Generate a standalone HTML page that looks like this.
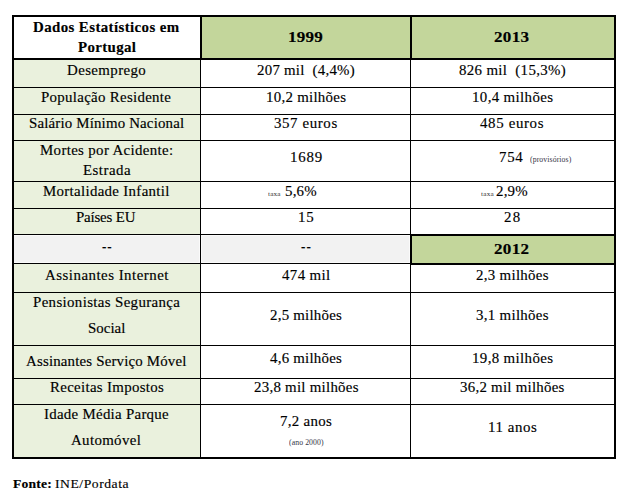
<!DOCTYPE html>
<html><head><meta charset="utf-8"><title>Dados Estatísticos em Portugal</title>
<style>
html,body{margin:0;padding:0;background:#fff;}
body{width:627px;height:497px;position:relative;overflow:hidden;font-family:"Liberation Serif",serif;color:#000;}
.f{position:absolute;}
.k{position:absolute;background:#000;}
.t{position:absolute;white-space:pre;line-height:20px;height:20px;transform-origin:0 0;-webkit-text-stroke:0.15px #000;}
.b{font-weight:bold;}
</style></head>
<body>
<div class="f" style="left:14px;top:60px;width:186px;height:175px;background:#eaf1dd"></div>
<div class="f" style="left:14px;top:264px;width:186px;height:193px;background:#eaf1dd"></div>
<div class="f" style="left:202px;top:17px;width:412px;height:41px;background:#c3d69b"></div>
<div class="f" style="left:14px;top:235px;width:186px;height:28px;background:#fafafa"></div>
<div class="f" style="left:201px;top:235px;width:209px;height:28px;background:#fafafa"></div>
<div class="f" style="left:14px;top:236px;width:185px;height:26px;background:#f2f2f2"></div>
<div class="f" style="left:202px;top:236px;width:207px;height:26px;background:#f2f2f2"></div>
<div class="f" style="left:412px;top:236px;width:202px;height:27px;background:#c3d69b"></div>
<div class="k" style="left:12px;top:15px;width:604px;height:2px"></div>
<div class="k" style="left:12px;top:457px;width:604px;height:2px"></div>
<div class="k" style="left:12px;top:15px;width:2px;height:444px"></div>
<div class="k" style="left:614px;top:15px;width:2px;height:444px"></div>
<div class="k" style="left:12px;top:58px;width:604px;height:2px"></div>
<div class="k" style="left:200px;top:15px;width:2px;height:45px"></div>
<div class="k" style="left:410px;top:15px;width:2px;height:45px"></div>
<div class="k" style="left:200px;top:60px;width:1px;height:397px"></div>
<div class="k" style="left:410px;top:60px;width:1px;height:397px"></div>
<div class="k" style="left:14px;top:87px;width:600px;height:1px"></div>
<div class="k" style="left:14px;top:114px;width:600px;height:1px"></div>
<div class="k" style="left:14px;top:140px;width:600px;height:1px"></div>
<div class="k" style="left:14px;top:181px;width:600px;height:1px"></div>
<div class="k" style="left:14px;top:208px;width:600px;height:1px"></div>
<div class="k" style="left:14px;top:234px;width:600px;height:1px"></div>
<div class="k" style="left:14px;top:263px;width:600px;height:1px"></div>
<div class="k" style="left:14px;top:292px;width:600px;height:1px"></div>
<div class="k" style="left:14px;top:345px;width:600px;height:1px"></div>
<div class="k" style="left:14px;top:378px;width:600px;height:1px"></div>
<div class="k" style="left:14px;top:404px;width:600px;height:1px"></div>
<div class="k" style="left:410px;top:234px;width:206px;height:2px"></div>
<div class="k" style="left:410px;top:263px;width:206px;height:2px"></div>
<div class="k" style="left:410px;top:234px;width:2px;height:31px"></div>
<div class="t b" style="left:32.70px;top:17.21px;font-size:14.2px;letter-spacing:0.381px;transform:scaleX(1.05);">Dados Estatísticos em</div>
<div class="t b" style="left:77.70px;top:37.01px;font-size:14.2px;letter-spacing:0.333px;transform:scaleX(1.05);">Portugal</div>
<div class="t" style="left:67.10px;top:60.41px;font-size:14.2px;letter-spacing:0.372px;transform:scaleX(1.05);">Desemprego</div>
<div class="t" style="left:41.20px;top:86.81px;font-size:14.2px;letter-spacing:0.284px;transform:scaleX(1.05);">População Residente</div>
<div class="t" style="left:28.70px;top:113.21px;font-size:14.2px;letter-spacing:0.159px;transform:scaleX(1.05);">Salário Mínimo Nacional</div>
<div class="t" style="left:40.20px;top:140.21px;font-size:14.2px;letter-spacing:0.325px;transform:scaleX(1.05);">Mortes por Acidente:</div>
<div class="t" style="left:82.70px;top:159.61px;font-size:14.2px;letter-spacing:0.464px;transform:scaleX(1.05);">Estrada</div>
<div class="t" style="left:43.20px;top:181.01px;font-size:14.2px;letter-spacing:0.301px;transform:scaleX(1.05);">Mortalidade Infantil</div>
<div class="t" style="left:76.20px;top:206.51px;font-size:14.2px;letter-spacing:-0.171px;transform:scaleX(1.05);">Países EU</div>
<div class="t" style="left:101.60px;top:235.91px;font-size:14.2px;letter-spacing:0.873px;transform:scaleX(0.92);">--</div>
<div class="t" style="left:44.80px;top:264.91px;font-size:14.2px;letter-spacing:0.466px;transform:scaleX(1.05);">Assinantes Internet</div>
<div class="t" style="left:32.90px;top:291.81px;font-size:14.2px;letter-spacing:0.338px;transform:scaleX(1.05);">Pensionistas Segurança</div>
<div class="t" style="left:87.80px;top:318.01px;font-size:14.2px;letter-spacing:0.011px;transform:scaleX(1.05);">Social</div>
<div class="t" style="left:26.30px;top:351.11px;font-size:14.2px;letter-spacing:0.166px;transform:scaleX(1.05);">Assinantes Serviço Móvel</div>
<div class="t" style="left:49.60px;top:377.21px;font-size:14.2px;letter-spacing:0.296px;transform:scaleX(1.05);">Receitas Impostos</div>
<div class="t" style="left:44.10px;top:403.71px;font-size:14.2px;letter-spacing:0.265px;transform:scaleX(1.05);">Idade Média Parque</div>
<div class="t" style="left:71.30px;top:429.81px;font-size:14.2px;letter-spacing:0.329px;transform:scaleX(1.05);">Automóvel</div>
<div class="t b" style="left:288.40px;top:27.01px;font-size:14.2px;letter-spacing:0.208px;transform:scaleX(1.2);">1999</div>
<div class="t" style="left:256.60px;top:60.11px;font-size:14.2px;letter-spacing:0.229px;transform:scaleX(1.05);">207 mil  (4,4%)</div>
<div class="t" style="left:266.00px;top:86.61px;font-size:14.2px;letter-spacing:0.262px;transform:scaleX(1.05);">10,2 milhões</div>
<div class="t" style="left:274.40px;top:112.71px;font-size:14.2px;letter-spacing:0.578px;transform:scaleX(1.05);">357 euros</div>
<div class="t" style="left:289.70px;top:147.41px;font-size:14.2px;letter-spacing:0.732px;transform:scaleX(1.05);">1689</div>
<div class="t" style="left:268.30px;top:183.97px;font-size:6.9px;letter-spacing:0.140px;transform:scaleX(1.05);color:#333;-webkit-text-stroke:0px;">taxa</div>
<div class="t" style="left:285.10px;top:181.21px;font-size:14.2px;letter-spacing:0.209px;transform:scaleX(1.05);">5,6%</div>
<div class="t" style="left:297.80px;top:207.21px;font-size:14.2px;letter-spacing:0.765px;transform:scaleX(1.05);">15</div>
<div class="t" style="left:301.00px;top:235.91px;font-size:14.2px;letter-spacing:1.199px;transform:scaleX(0.92);">--</div>
<div class="t" style="left:281.70px;top:264.71px;font-size:14.2px;letter-spacing:0.359px;transform:scaleX(1.05);">474 mil</div>
<div class="t" style="left:270.10px;top:304.91px;font-size:14.2px;letter-spacing:0.216px;transform:scaleX(1.05);">2,5 milhões</div>
<div class="t" style="left:270.10px;top:348.01px;font-size:14.2px;letter-spacing:0.216px;transform:scaleX(1.05);">4,6 milhões</div>
<div class="t" style="left:253.50px;top:377.21px;font-size:14.2px;letter-spacing:0.251px;transform:scaleX(1.05);">23,8 mil milhões</div>
<div class="t" style="left:280.10px;top:411.01px;font-size:14.2px;letter-spacing:0.291px;transform:scaleX(1.05);">7,2 anos</div>
<div class="t" style="left:288.50px;top:433.30px;font-size:7.4px;letter-spacing:0.080px;transform:scaleX(1.05);color:#334;-webkit-text-stroke:0px;">(ano 2000)</div>
<div class="t b" style="left:494.40px;top:27.01px;font-size:14.2px;letter-spacing:0.292px;transform:scaleX(1.2);">2013</div>
<div class="t" style="left:458.60px;top:60.11px;font-size:14.2px;letter-spacing:0.312px;transform:scaleX(1.05);">826 mil  (15,3%)</div>
<div class="t" style="left:472.00px;top:86.61px;font-size:14.2px;letter-spacing:0.348px;transform:scaleX(1.05);">10,4 milhões</div>
<div class="t" style="left:480.40px;top:112.71px;font-size:14.2px;letter-spacing:0.614px;transform:scaleX(1.05);">485 euros</div>
<div class="t" style="left:499.00px;top:146.81px;font-size:14.2px;letter-spacing:0.693px;transform:scaleX(1.05);">754</div>
<div class="t" style="left:529.70px;top:150.20px;font-size:7.4px;letter-spacing:0.095px;transform:scaleX(1.05);color:#334;-webkit-text-stroke:0px;">(provisórios)</div>
<div class="t" style="left:480.50px;top:183.97px;font-size:6.9px;letter-spacing:0.204px;transform:scaleX(1.05);color:#333;-webkit-text-stroke:0px;">taxa</div>
<div class="t" style="left:496.10px;top:181.21px;font-size:14.2px;letter-spacing:0.209px;transform:scaleX(1.05);">2,9%</div>
<div class="t" style="left:503.80px;top:207.21px;font-size:14.2px;letter-spacing:1.336px;transform:scaleX(1.05);">28</div>
<div class="t b" style="left:494.40px;top:238.61px;font-size:14.2px;letter-spacing:0.292px;transform:scaleX(1.2);">2012</div>
<div class="t" style="left:476.00px;top:264.71px;font-size:14.2px;letter-spacing:0.292px;transform:scaleX(1.05);">2,3 milhões</div>
<div class="t" style="left:476.00px;top:304.91px;font-size:14.2px;letter-spacing:0.292px;transform:scaleX(1.05);">3,1 milhões</div>
<div class="t" style="left:472.00px;top:348.01px;font-size:14.2px;letter-spacing:0.348px;transform:scaleX(1.05);">19,8 milhões</div>
<div class="t" style="left:460.30px;top:377.21px;font-size:14.2px;letter-spacing:0.244px;transform:scaleX(1.05);">36,2 mil milhões</div>
<div class="t" style="left:488.10px;top:416.71px;font-size:14.2px;letter-spacing:0.543px;transform:scaleX(1.05);">11 anos</div>
<div class="t b" style="left:13.00px;top:474.41px;font-size:13.0px;letter-spacing:0.188px;transform:scaleX(1.05);">Fonte:</div>
<div class="t" style="left:55.00px;top:474.41px;font-size:13.0px;letter-spacing:0.511px;transform:scaleX(1.05);">INE/Pordata</div>
</body></html>
